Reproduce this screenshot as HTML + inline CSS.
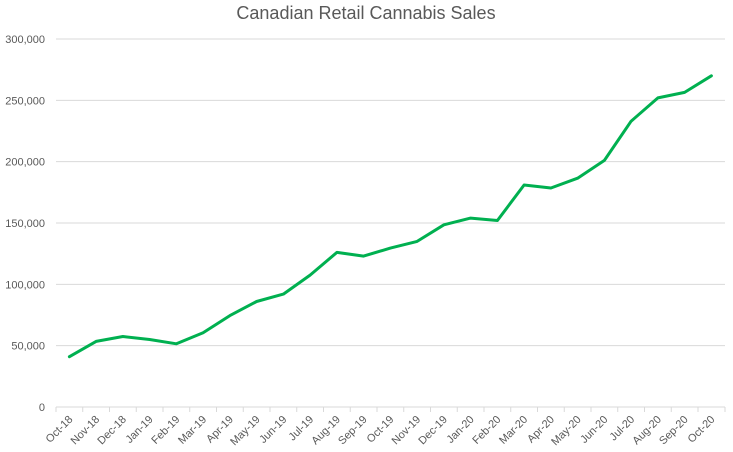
<!DOCTYPE html>
<html><head><meta charset="utf-8"><style>
body{margin:0;background:#fff;}
svg{display:block;font-family:"Liberation Sans",Calibri,sans-serif;}
</style></head><body>
<svg id="c" width="733" height="452" xmlns="http://www.w3.org/2000/svg">
<text x="366" y="19" text-anchor="middle" font-size="18" fill="#595959">Canadian Retail Cannabis Sales</text>
</svg>
<script>
var s=document.getElementById('c'),ns='http://www.w3.org/2000/svg';
function el(t,a,txt){var e=document.createElementNS(ns,t);for(var k in a)e.setAttribute(k,a[k]);if(txt)e.textContent=txt;s.appendChild(e);return e;}
var x0=56,w=26.75,yb=407,ppv=368/300000;
var yl=['0','50,000','100,000','150,000','200,000','250,000','300,000'];
for(var i=0;i<7;i++){var y=yb-i*50000*ppv;
 if(i>0)el('line',{x1:x0,x2:725,y1:y,y2:y,stroke:'#d9d9d9','stroke-width':1});
 el('text',{x:45,y:y+4,'text-anchor':'end','font-size':11,fill:'#595959'},yl[i]);}
el('line',{x1:x0,x2:725,y1:yb,y2:yb,stroke:'#d9d9d9'});
var labs=['Oct-18','Nov-18','Dec-18','Jan-19','Feb-19','Mar-19','Apr-19','May-19','Jun-19','Jul-19','Aug-19','Sep-19','Oct-19','Nov-19','Dec-19','Jan-20','Feb-20','Mar-20','Apr-20','May-20','Jun-20','Jul-20','Aug-20','Sep-20','Oct-20'];
var d=[41000,53500,57500,55000,51500,60500,74500,86000,92000,107500,126000,123000,129500,135000,148500,154000,152000,181000,178500,186500,201000,233000,252000,256500,270000];
var pts=[];
for(var i=0;i<25;i++){var cx=x0+w*(i+0.5);
 el('line',{x1:x0+w*i,x2:x0+w*i,y1:yb,y2:yb+5,stroke:'#d9d9d9'});
 el('text',{x:cx+4,y:yb+13,'text-anchor':'end','font-size':11,fill:'#595959',transform:'rotate(-45 '+(cx+4)+' '+(yb+13)+')'},labs[i]);
 pts.push(cx.toFixed(1)+','+(yb-d[i]*ppv).toFixed(1));}
el('line',{x1:725,x2:725,y1:yb,y2:yb+5,stroke:'#d9d9d9'});
el('polyline',{points:pts.join(' '),fill:'none',stroke:'#00b050','stroke-width':3,'stroke-linejoin':'round','stroke-linecap':'round'});
</script>
</body></html>
